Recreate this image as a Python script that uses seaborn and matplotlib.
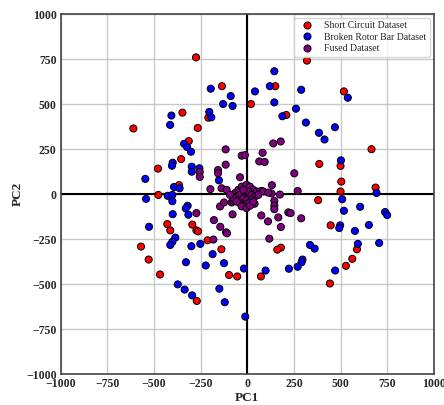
import matplotlib
matplotlib.use("Agg")
import matplotlib.pyplot as plt
import seaborn as sns
import pandas as pd

sc_x = [-275, -136, -611, -348, -266, -314, -209, -355, -479, -366, -477,
        20, 320, 150, 518, 209, 666, 386, 500, 504, 688, 500,
        -429, -413, -295, -273, -264, -570, -529, -468, -213, -139, -98, -54, -271,
        380, 447, 180, 161, 588, 563, 529, 73, 443]
sc_y = [760, 600, 365, 453, 368, 295, 425, 195, 142, 50, -4,
        501, 742, 600, 571, 440, 250, 168, 157, 70, 37, 15,
        -166, -201, -169, -201, -206, -291, -363, -446, -256, -306, -449, -457, -593,
        -33, -173, -297, -308, -306, -359, -398, -457, -496]

brb_x = [-196, -89, -130, -79, -204, -193, -407, -414, -339, -323, -302, -400, -404,
         -298, -298, -257, -152, -547, -393, -363,
         145, 121, 41, 289, 539, 145, 261, 188, 314, 470, 384, 414, 502, 693,
         -543, -427, -402, -402, -320, -330, -316, -400, -527, -386, -402, -413, -300,
         -252, -186, -125, -223, -329, -18, -373, -336, -296, -150, -121, -11,
         509, 605, 518, 739, 750, 652, 498, 493, 577, 593, 707, 336, 361, 296, 291,
         270, 223, 98, 471]
brb_y = [586, 545, 501, 490, 457, 427, 437, 385, 280, 262, 236, 175, 158,
         153, 125, 144, 77, 85, 40, 33,
         683, 600, 571, 580, 536, 510, 475, 433, 398, 372, 341, 304, 188, 7,
         -26, -9, -4, -39, -64, -79, -114, -111, -181, -241, -265, -282, -289,
         -276, -333, -383, -396, -378, -413, -501, -530, -562, -525, -600, -680,
         -28, -70, -92, -99, -116, -171, -173, -188, -204, -276, -271, -282, -302, -363, -378,
         -403, -414, -424, -424]

fused_x = [-116, -30, -13, -116, -255, -255, -157, -157, -39, -198, -138, -111,
           139, 179, 82, 64, 93, 252, 132, 270, 130, 175, 77,
           -273, -179, -146, -125, -145, -114, -109, -79, -84, -182,
           145, 145, 145, 75, 111, 166, 180, 220, 232, 289, 118, 39, -75,
           -66, -48, -30, -4, 14, 32, 50, 68, -57, -39, -13, 5, 23, 41, -75, -48,
           -21, -4, 23, -39, -13, 5, -57, -30, -4, 14, -93, 59, -21, 32, 86, 112]
fused_y = [249, 214, 217, 164, 123, 96, 134, 116, 94, 28, 33, 24,
           282, 293, 230, 182, 179, 116, 50, 18, 4, -2, 18,
           -105, -144, -68, -46, -181, -212, -217, -112, -46, -252,
           -37, -64, -83, -118, -151, -129, -182, -101, -105, -134, -247, -53, -37,
           6, 24, 42, 52, 42, 24, 15, 15, -13, -4, 6, 15, -4, -13, -22, -31,
           -22, -31, -31, -50, -59, -50, -41, -68, -77, -64, -4, -4, 24, -41, 15, 9]

labels = ["Short Circuit Dataset", "Broken Rotor Bar Dataset", "Fused Dataset"]
colors = ["red", "blue", "purple"]

df = pd.DataFrame({
    "PC1": sc_x + brb_x + fused_x,
    "PC2": sc_y + brb_y + fused_y,
    "Dataset": [labels[0]] * len(sc_x) + [labels[1]] * len(brb_x) + [labels[2]] * len(fused_x),
})

sns.set_style("whitegrid")
plt.rcParams["font.family"] = ["Liberation Serif", "DejaVu Serif"]

fig = plt.figure(figsize=(4.44, 4.05), dpi=100)
ax = fig.add_axes([0.137, 0.076, 0.84, 0.889])

sns.scatterplot(data=df, x="PC1", y="PC2", hue="Dataset", hue_order=labels,
                palette=dict(zip(labels, colors)), s=26, edgecolor="black",
                linewidth=0.7, ax=ax, zorder=3)

ax.axhline(0, color="black", lw=1.5, zorder=2)
ax.axvline(0, color="black", lw=1.5, zorder=2)
ax.set_xlim(-1000, 1000)
ax.set_ylim(-1000, 1000)
ax.set_xticks(range(-1000, 1001, 250))
ax.set_yticks(range(-1000, 1001, 250))
ax.grid(True, color="#c8c8c8", lw=1.0)
for sp in ax.spines.values():
    sp.set_color("#444444")
    sp.set_linewidth(1.2)
ax.tick_params(axis="both", labelsize=8.5, length=0, pad=3)
for t in ax.get_xticklabels() + ax.get_yticklabels():
    t.set_fontweight("bold")
ax.set_xlabel("PC1", fontsize=9.5, fontweight="bold", labelpad=1)
ax.set_ylabel("PC2", fontsize=9.5, fontweight="bold", labelpad=2)

leg = ax.legend(loc="upper right", fontsize=7, frameon=True, title=None,
                handletextpad=0.8, borderpad=0.35, labelspacing=0.25,
                borderaxespad=0.4)
leg.get_frame().set_edgecolor("#cccccc")

fig.savefig("out.png", dpi=100)
